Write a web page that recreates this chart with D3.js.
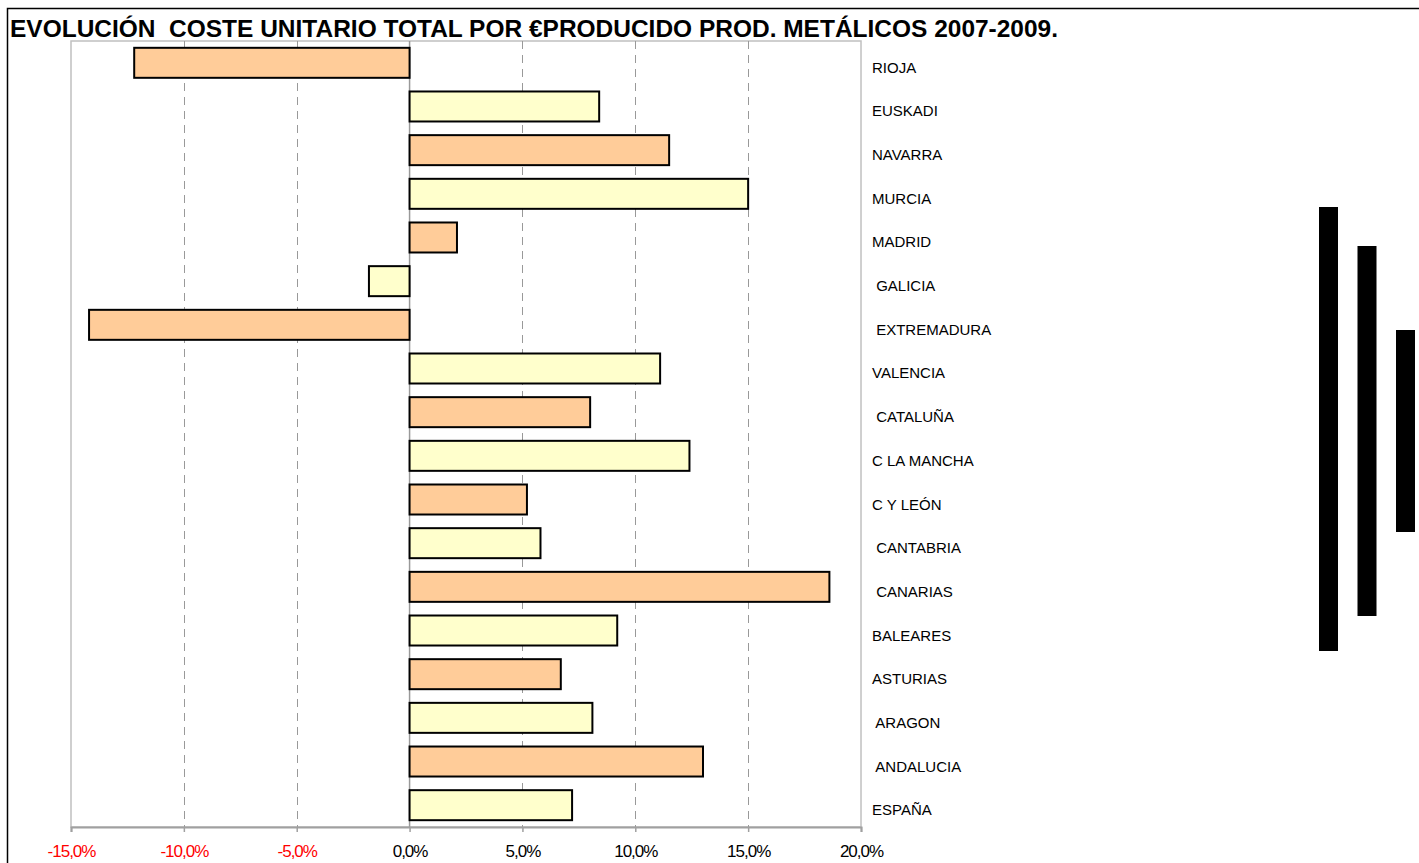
<!DOCTYPE html>
<html>
<head>
<meta charset="utf-8">
<script src="https://cdn.jsdelivr.net/npm/d3@7"></script>
<style>
  html, body { margin: 0; padding: 0; background: #fff; }
  svg { display: block; font-family: Arial, "Liberation Sans", sans-serif; }
</style>
</head>
<body>
<svg id="chart" width="1419" height="863"></svg>
<script>
// Regions (top to bottom) and their change in unit cost, 2007-2009 (%)
const categories = ["RIOJA", "EUSKADI", "NAVARRA", "MURCIA", "MADRID", " GALICIA", " EXTREMADURA",
  "VALENCIA", " CATALUÑA", "C LA MANCHA", "C Y LEÓN", " CANTABRIA", " CANARIAS", "BALEARES",
  "ASTURIAS", " ARAGON", " ANDALUCIA", "ESPAÑA"];
const values = [-12.2, 8.4, 11.5, 15.0, 2.1, -1.8, -14.2, 11.1, 8.0, 12.4, 5.2, 5.8, 18.6, 9.2,
  6.7, 8.1, 13.0, 7.2];
const tickValues = [-15, -10, -5, 0, 5, 10, 15, 20];
// Stray legend bars at the right edge (top and bottom, px)
const legendBars = [[207, 651], [246, 616], [330, 532]];

const svg = d3.select("#chart");
const fillA = "#FFCC99", fillB = "#FFFFCC";
const margin = { left: 71, right: 861, top: 41, bottom: 827 };

const x = d3.scaleLinear().domain([-15, 20]).range([margin.left, margin.right]);
const y = d3.scaleBand().domain(categories).range([margin.top, margin.bottom])
  .paddingInner(0.313).paddingOuter(0.156);

// Outer frame
svg.append("path").attr("d", "M7.5,863 V8.5 H1419").attr("fill", "none").attr("stroke", "#000").attr("stroke-width", 1.5);

// Title
svg.append("text").attr("x", 10).attr("y", 37)
  .attr("font-size", 24).attr("font-weight", "bold").attr("fill", "#000")
  .attr("textLength", 1048).attr("lengthAdjust", "spacingAndGlyphs")
  .style("white-space", "pre")
  .text("EVOLUCIÓN  COSTE UNITARIO TOTAL POR €PRODUCIDO PROD. METÁLICOS 2007-2009.");

// Plot border
svg.append("rect").attr("x", margin.left).attr("y", margin.top)
  .attr("width", margin.right - margin.left).attr("height", margin.bottom - margin.top)
  .attr("fill", "none").attr("stroke", "#c0c0c0").attr("stroke-width", 1.5);

// Gridlines
svg.append("g").selectAll("line").data(tickValues.filter(v => v !== -15 && v !== 20 && v !== 0))
  .join("line")
  .attr("x1", d => Math.round(x(d)) + 0.5).attr("x2", d => Math.round(x(d)) + 0.5)
  .attr("y1", margin.top).attr("y2", margin.bottom)
  .attr("stroke", "#999").attr("stroke-width", 1).attr("stroke-dasharray", "8,6");

// Zero line
svg.append("line").attr("x1", x(0)).attr("x2", x(0)).attr("y1", margin.top).attr("y2", margin.bottom)
  .attr("stroke", "#999").attr("stroke-width", 1.5);

// Bottom axis
const axis = svg.append("g").attr("transform", `translate(0,${margin.bottom})`)
  .call(d3.axisBottom(x).tickValues(tickValues).tickSize(5).tickPadding(12)
    .tickFormat(d => (d < 0 ? "-" : "") + d3.format(".1f")(Math.abs(d)).replace(".", ",") + "%"));
axis.select(".domain").attr("stroke", "#a0a0a0").attr("stroke-width", 2);
axis.selectAll(".tick line").attr("stroke", "#a0a0a0").attr("stroke-width", 1.5);
axis.selectAll(".tick text")
  .attr("y", 18).attr("dy", "0.71em")
  .attr("font-size", 17).attr("font-family", "Arial, 'Liberation Sans', sans-serif")
  .attr("letter-spacing", -1)
  .attr("fill", d => d < 0 ? "#ff0000" : "#000");

// Bars
svg.append("g").selectAll("rect").data(categories).join("rect")
  .attr("x", (d, i) => x(Math.min(0, values[i])))
  .attr("y", d => y(d))
  .attr("width", (d, i) => Math.abs(x(values[i]) - x(0)))
  .attr("height", y.bandwidth())
  .attr("fill", (d, i) => i % 2 === 0 ? fillA : fillB)
  .attr("stroke", "#000").attr("stroke-width", 2);

// Category labels
svg.append("g").selectAll("text").data(categories).join("text")
  .attr("x", 872)
  .attr("y", d => y(d) + y.bandwidth() / 2 + 10)
  .attr("font-size", 15).attr("fill", "#000")
  .style("white-space", "pre")
  .text(d => d);

// Legend bars on the right
svg.append("g").selectAll("rect").data(legendBars).join("rect")
  .attr("x", (d, i) => 1319 + i * 38.5)
  .attr("y", d => d[0])
  .attr("width", 19)
  .attr("height", d => d[1] - d[0])
  .attr("fill", "#000");
</script>
</body>
</html>
